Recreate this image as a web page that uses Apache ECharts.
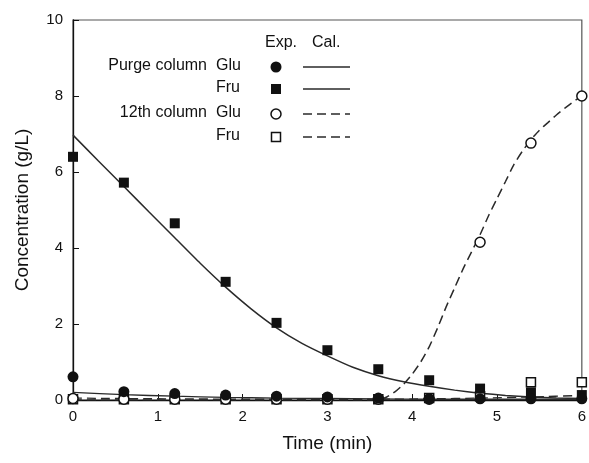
<!DOCTYPE html>
<html>
<head>
<meta charset="utf-8">
<script src="https://cdn.jsdelivr.net/npm/echarts@6/dist/echarts.min.js"></script>
<style>
  html, body { margin: 0; padding: 0; background: #fff; }
  #chart { width: 589px; height: 463px; }
</style>
</head>
<body>
<div id="chart"></div>
<script>
// sampling times (min)
const expTimes = [0, 0.6, 1.2, 1.8, 2.4, 3.0, 3.6, 4.2, 4.8, 5.4, 6.0]

// experimental points
const purgeGluExp = [0.61, 0.22, 0.17, 0.13, 0.1, 0.08, 0.05, 0.03, 0.03, 0.03, 0.03]
const purgeFruExp = [6.4, 5.72, 4.65, 3.11, 2.03, 1.31, 0.81, 0.52, 0.3, 0.2, 0.13]
const col12GluExp = [0.04, 0.02, 0.02, 0.02, 0.02, 0.02, 0.02, 0.02, 4.15, 6.76, 8.0]
const col12FruExp = [0.02, 0.02, 0.02, 0.02, 0.02, 0.02, 0.02, 0.05, 0.1, 0.47, 0.47]

// calculated curves
const purgeFruCalT = [0, 0.3, 0.6, 0.9, 1.2, 1.5, 1.8, 2.1, 2.4, 2.7, 3.0, 3.3, 3.6, 3.9, 4.2, 4.5, 4.8, 5.1, 5.4, 5.7, 6.0]
const purgeFruCal = [6.97, 6.29, 5.62, 4.94, 4.27, 3.6, 2.97, 2.4, 1.9, 1.49, 1.16, 0.86, 0.64, 0.48, 0.36, 0.26, 0.18, 0.12, 0.08, 0.05, 0.04]
const purgeGluCalT = [0, 0.6, 1.2, 1.8, 2.4, 3.0, 3.6, 4.2, 4.8, 5.4, 6.0]
const purgeGluCal = [0.2, 0.14, 0.1, 0.07, 0.05, 0.04, 0.03, 0.02, 0.02, 0.02, 0.02]
const col12GluCalT = [0, 3.6, 3.7, 3.8, 3.9, 4.0, 4.1, 4.2, 4.3, 4.4, 4.5, 4.6, 4.7, 4.8, 4.9, 5.0, 5.1, 5.2, 5.3, 5.4, 5.5, 5.6, 5.7, 5.8, 5.9, 6.0]
const col12GluCal = [0, 0, 0.08, 0.22, 0.42, 0.68, 1.0, 1.4, 1.9, 2.45, 2.95, 3.45, 3.9, 4.35, 4.85, 5.3, 5.75, 6.2, 6.55, 6.85, 7.1, 7.3, 7.5, 7.68, 7.85, 8.0]
const col12FruCalT = [0, 1.2, 2.4, 3.6, 4.2, 4.8, 5.4, 6.0]
const col12FruCal = [0.05, 0.03, 0.02, 0.02, 0.03, 0.05, 0.08, 0.12]

const xTicks = [0, 1, 2, 3, 4, 5, 6]
const yTicks = [0, 2, 4, 6, 8, 10]

const ink = '#111'
const lineInk = '#2a2a2a'
const font = 'Liberation Sans'

function pairs(xs, ys) {
  return xs.map((x, i) => [x, ys[i]])
}

const chart = echarts.init(document.getElementById('chart'))

const dash = [9, 5]

// legend table drawn as graphic (Exp. / Cal. columns)
function legendRow(y, group, comp, marker, dashed) {
  const els = []
  if (group) {
    els.push({ type: 'text', right: 589 - 207, top: y - 9,
      style: { text: group, font: '16px ' + font, fill: ink, textAlign: 'right' } })
  }
  els.push({ type: 'text', left: 216, top: y - 9,
    style: { text: comp, font: '16px ' + font, fill: ink } })
  els.push(marker)
  els.push({ type: 'line', shape: { x1: 303, y1: y, x2: 350, y2: y },
    style: { stroke: lineInk, lineWidth: 1.4, lineDash: dashed ? dash : null } })
  return els
}

const graphics = [
  { type: 'text', left: 265, top: 35, style: { text: 'Exp.', font: '16px ' + font, fill: ink } },
  { type: 'text', left: 312, top: 35, style: { text: 'Cal.', font: '16px ' + font, fill: ink } }
]
  .concat(legendRow(67, 'Purge column', 'Glu',
    { type: 'circle', shape: { cx: 276, cy: 67, r: 5.5 }, style: { fill: ink } }, false))
  .concat(legendRow(89, null, 'Fru',
    { type: 'rect', shape: { x: 271, y: 84, width: 10, height: 10 }, style: { fill: ink } }, false))
  .concat(legendRow(114, '12th column', 'Glu',
    { type: 'circle', shape: { cx: 276, cy: 114, r: 5 }, style: { fill: '#fff', stroke: ink, lineWidth: 1.5 } }, true))
  .concat(legendRow(137, null, 'Fru',
    { type: 'rect', shape: { x: 271.5, y: 132.5, width: 9, height: 9 }, style: { fill: '#fff', stroke: ink, lineWidth: 1.5 } }, true))

const option = {
  animation: false,
  backgroundColor: '#fff',
  grid: {
    left: 73, right: 7, top: 20, bottom: 63,
    show: true, borderColor: '#555', borderWidth: 1.2
  },
  xAxis: {
    type: 'value', min: 0, max: 6, interval: 1,
    name: 'Time (min)', nameLocation: 'middle', nameGap: 34,
    nameTextStyle: { fontFamily: font, fontSize: 19, color: ink },
    axisLine: { show: true, lineStyle: { color: ink, width: 1.3 } },
    axisTick: { inside: true, length: 6, lineStyle: { color: ink } },
    axisLabel: { fontFamily: font, fontSize: 15, color: ink, margin: 9,
      customValues: xTicks },
    splitLine: { show: false }
  },
  yAxis: {
    type: 'value', min: 0, max: 10, interval: 2,
    name: 'Concentration (g/L)', nameLocation: 'middle', nameGap: 41,
    nameTextStyle: { fontFamily: font, fontSize: 19, color: ink },
    axisLine: { show: true, lineStyle: { color: ink, width: 1.3 } },
    axisTick: { inside: true, length: 6, lineStyle: { color: ink } },
    axisLabel: { fontFamily: font, fontSize: 15, color: ink, margin: 10,
      customValues: yTicks },
    splitLine: { show: false }
  },
  graphic: graphics,
  series: [
    { name: 'Purge Fru Cal.', type: 'line', data: pairs(purgeFruCalT, purgeFruCal),
      showSymbol: false, smooth: 0.2, lineStyle: { color: lineInk, width: 1.5 }, z: 2 },
    { name: 'Purge Glu Cal.', type: 'line', data: pairs(purgeGluCalT, purgeGluCal),
      showSymbol: false, smooth: 0.2, lineStyle: { color: lineInk, width: 1.3 }, z: 2 },
    { name: '12th Glu Cal.', type: 'line', data: pairs(col12GluCalT, col12GluCal),
      showSymbol: false, smooth: 0.2, lineStyle: { color: lineInk, width: 1.5, type: dash }, z: 2 },
    { name: '12th Fru Cal.', type: 'line', data: pairs(col12FruCalT, col12FruCal),
      showSymbol: false, smooth: 0.2, lineStyle: { color: lineInk, width: 1.3, type: dash }, z: 2 },
    { name: '12th Fru Exp.', type: 'scatter', data: pairs(expTimes, col12FruExp),
      symbol: 'rect', symbolSize: 9,
      itemStyle: { color: '#fff', borderColor: ink, borderWidth: 1.5, opacity: 1 }, z: 3 },
    { name: '12th Glu Exp.', type: 'scatter', data: pairs(expTimes, col12GluExp),
      symbol: 'circle', symbolSize: 10,
      itemStyle: { color: '#fff', borderColor: ink, borderWidth: 1.5, opacity: 1 }, z: 3 },
    { name: 'Purge Fru Exp.', type: 'scatter', data: pairs(expTimes, purgeFruExp),
      symbol: 'rect', symbolSize: 10, itemStyle: { color: ink, opacity: 1 }, z: 4 },
    { name: 'Purge Glu Exp.', type: 'scatter', data: pairs(expTimes, purgeGluExp),
      symbol: 'circle', symbolSize: 11, itemStyle: { color: ink, opacity: 1 }, z: 4 }
  ]
}

chart.setOption(option)
</script>
</body>
</html>
